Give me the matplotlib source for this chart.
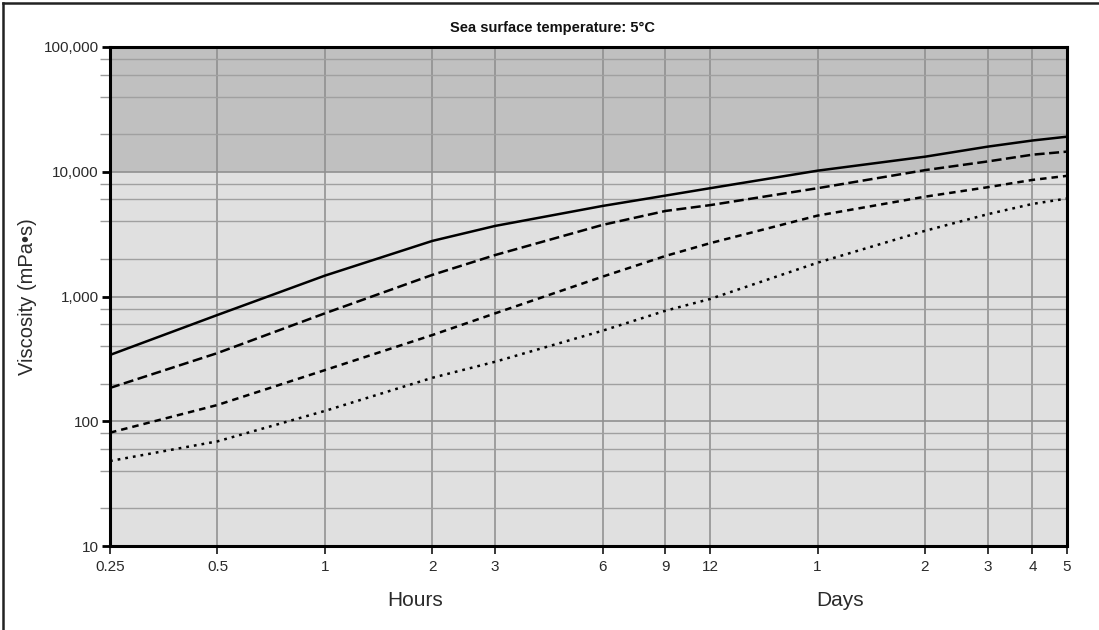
import matplotlib
matplotlib.use("Agg")
import matplotlib.pyplot as plt
from matplotlib.ticker import LogLocator, NullFormatter, FixedLocator
from matplotlib.lines import Line2D

# ---- data ----
times_h = [0.25, 0.5, 1, 2, 3, 6, 9, 12, 24, 48, 72, 96, 120]
visc_solid = [340, 711, 1470, 2790, 3680, 5320, 6440, 7380, 10200, 13200, 15900, 17800, 19100]
visc_longdash = [185, 352, 733, 1490, 2150, 3750, 4850, 5400, 7380, 10300, 12100, 13700, 14500]
visc_dash = [81, 135, 257, 491, 733, 1443, 2114, 2675, 4450, 6310, 7520, 8600, 9270]
visc_dot = [48, 69, 121, 223, 300, 532, 769, 955, 1866, 3360, 4570, 5520, 6100]

xtick_pos = [0.25, 0.5, 1, 2, 3, 6, 9, 12, 24, 48, 72, 96, 120]
xtick_labels = ['0.25', '0.5', '1', '2', '3', '6', '9', '12', '1', '2', '3', '4', '5']
ytick_pos = [10, 100, 1000, 10000, 100000]
ytick_labels = ['10', '100', '1,000', '10,000', '100,000']
threshold = 10000

title = "Sea surface temperature: 5°C"
ylabel = "Viscosity (mPa•s)"

narrow = ['Liberation Sans Narrow', 'Liberation Sans', 'DejaVu Sans']
plt.rcParams['font.family'] = narrow

W, H = 1099, 630
fig = plt.figure(figsize=(W / 100, H / 100), dpi=100)
ax = fig.add_axes([110 / W, 1 - 546 / H, (1067 - 110) / W, (546 - 47) / H])

ax.set_xscale('log')
ax.set_yscale('log')
ax.set_xlim(0.25, 120)
ax.set_ylim(10, 100000)

ax.set_facecolor('#e0e0e0')
ax.axhspan(threshold, 100000, color='#c0c0c0', zorder=0, lw=0)

lw = 1.8
ax.plot(times_h, visc_solid, color='black', lw=lw, linestyle='-', zorder=3)
ax.plot(times_h, visc_longdash, color='black', lw=lw, linestyle=(0, (4.0, 1.8)), zorder=3)
ax.plot(times_h, visc_dash, color='black', lw=lw, linestyle=(0, (2.6, 2.0)), zorder=3)
ax.plot(times_h, visc_dot, color='black', lw=lw, linestyle=(0, (1.1, 2.0)), zorder=3)

# ticks
ax.set_xticks(xtick_pos)
ax.set_xticklabels(xtick_labels)
ax.xaxis.set_minor_locator(FixedLocator([]))
ax.set_yticks(ytick_pos)
ax.set_yticklabels(ytick_labels)
ax.yaxis.set_minor_locator(LogLocator(base=10, subs=(2, 4, 6, 8)))
ax.yaxis.set_minor_formatter(NullFormatter())

ax.tick_params(axis='x', which='major', direction='out', length=6, width=1.1,
               color='black', labelsize=11, labelcolor='#2a2a2a', pad=4)
ax.tick_params(axis='y', which='major', direction='out', length=6, width=2,
               color='black', labelsize=11, labelcolor='#2a2a2a', pad=2)
ax.tick_params(axis='y', which='minor', direction='out', length=7, width=1.0,
               color='#9a9a9a')

ax.set_axisbelow(True)
ax.grid(True, axis='x', which='major', color='#8c8c8c', lw=1.1)
ax.grid(True, axis='y', which='minor', color='#a0a0a0', lw=1.0)
ax.grid(True, axis='y', which='major', color='#909090', lw=1.2)

for s in ax.spines.values():
    s.set_color('black')
    s.set_linewidth(2.2)

# texts
fig.text(552 / W, 1 - 28 / H, title, ha='center', va='center',
         fontsize=10.5, fontweight='bold', color='#111111',
         family=['Liberation Sans', 'DejaVu Sans'])
fig.text(28 / W, 1 - 297 / H, ylabel, ha='center', va='center', rotation=90,
         fontsize=14.5, color='#2a2a2a')
fig.text(415 / W, 1 - 600 / H, 'Hours', ha='center', va='center',
         fontsize=15, color='#2a2a2a')
fig.text(840 / W, 1 - 600 / H, 'Days', ha='center', va='center',
         fontsize=15, color='#2a2a2a')

# outer frame (left and top)
fig.add_artist(Line2D([2.5 / W, 2.5 / W], [0, 1 - 2.5 / H], color='#222222', lw=1.8,
                      transform=fig.transFigure))
fig.add_artist(Line2D([2.5 / W, 1], [1 - 2.5 / H, 1 - 2.5 / H], color='#222222', lw=1.8,
                      transform=fig.transFigure))

fig.savefig('out.png', dpi=100)
